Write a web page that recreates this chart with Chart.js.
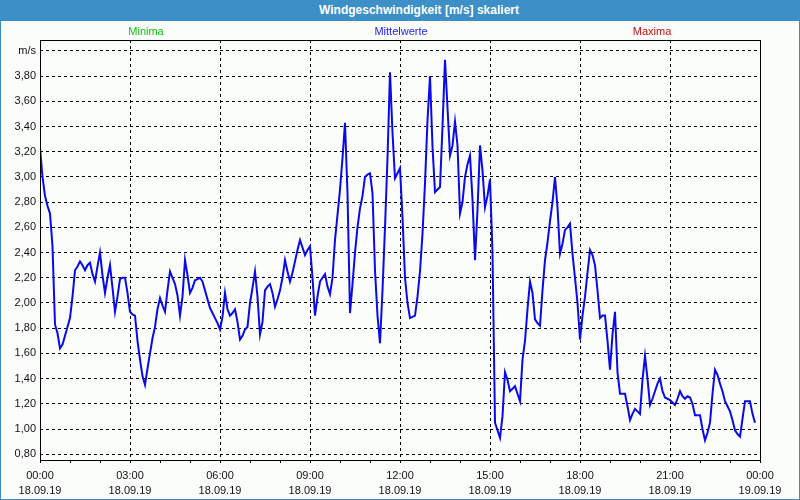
<!DOCTYPE html>
<html lang="de">
<head>
<meta charset="utf-8">
<title>Windgeschwindigkeit</title>
<script src="https://cdn.jsdelivr.net/npm/chart.js@4.4.1/dist/chart.umd.min.js"></script>
<style>
  html, body { margin: 0; padding: 0; background: #3d8fc7; }
  #frame {
    position: relative;
    width: 800px;
    height: 500px;
    background: #3d8fc7;
    font-family: "Liberation Sans", Arial, sans-serif;
  }
  #titlebar {
    position: absolute;
    left: 38px; top: 0;
    width: 762px; height: 21px;
    line-height: 21px;
    text-align: center;
    color: #fff;
    font-weight: bold;
    font-size: 12px;
  }
  #plot {
    position: absolute;
    left: 1px; top: 21px;
    width: 798px; height: 478px;
    background: #fbfdfb;
  }
  .legend-item {
    position: absolute;
    top: 25px;
    font-size: 11px;
    transform: translateX(-50%);
    white-space: nowrap;
  }
</style>
</head>
<body>
<div id="frame">
  <div id="titlebar">Windgeschwindigkeit [m/s] skaliert</div>
  <div id="plot"><canvas id="windChart" width="798" height="478"></canvas></div>
  <span class="legend-item" style="left:146px;color:#10c010">Minima</span>
  <span class="legend-item" style="left:401px;color:#1a1aff">Mittelwerte</span>
  <span class="legend-item" style="left:652px;color:#c01010">Maxima</span>
</div>
<script>
// Messwerte alle 5 Minuten ab 18.09.19 00:00 (Mittelwerte, m/s)
const intervalMinutes = 5;
const mittelwerte = [
  3.23, 3.00, 2.85, 2.77, 2.71, 2.45, 1.83, 1.76, 1.64, 1.67, 1.74, 1.81,
  1.88, 2.05, 2.26, 2.29, 2.33, 2.30, 2.26, 2.30, 2.32, 2.23, 2.17, 2.29,
  2.40, 2.22, 2.08, 2.20, 2.30, 2.12, 1.93, 2.05, 2.19, 2.20, 2.20, 2.08,
  1.93, 1.91, 1.90, 1.70, 1.55, 1.42, 1.35, 1.48, 1.60, 1.72, 1.81, 1.95,
  2.04, 1.98, 1.93, 2.10, 2.25, 2.20, 2.15, 2.06, 1.90, 2.05, 2.34, 2.22,
  2.08, 2.12, 2.18, 2.19, 2.20, 2.17, 2.10, 2.03, 1.96, 1.92, 1.88, 1.84,
  1.79, 1.89, 2.08, 1.95, 1.90, 1.92, 1.95, 1.85, 1.71, 1.74, 1.79, 1.81,
  2.00, 2.12, 2.25, 2.05, 1.75, 1.85, 2.10, 2.13, 2.15, 2.08, 1.97, 2.03,
  2.10, 2.20, 2.34, 2.25, 2.17, 2.24, 2.33, 2.42, 2.50, 2.44, 2.38, 2.42,
  2.45, 2.20, 1.90, 2.05, 2.17, 2.20, 2.23, 2.13, 2.07, 2.20, 2.50, 2.70,
  2.90, 3.15, 3.43, 2.87, 1.92, 2.15, 2.40, 2.60, 2.75, 2.85, 3.00, 3.02,
  3.03, 2.87, 2.26, 1.90, 1.68, 2.10, 2.60, 3.15, 3.83, 3.35, 2.99, 3.03,
  3.07, 2.68, 2.20, 2.00, 1.88, 1.89, 1.90, 2.05, 2.25, 2.55, 2.95, 3.45,
  3.80, 3.24, 2.88, 2.90, 2.92, 3.40, 3.93, 3.55, 3.17, 3.25, 3.44, 3.25,
  2.71, 2.80, 3.00, 3.10, 3.17, 2.82, 2.34, 2.74, 3.25, 3.05, 2.76, 2.85,
  2.98, 2.40, 1.05, 0.99, 0.93, 1.10, 1.45, 1.39, 1.30, 1.32, 1.34, 1.28,
  1.22, 1.55, 1.70, 1.95, 2.17, 2.08, 1.87, 1.84, 1.82, 2.10, 2.34, 2.48,
  2.65, 2.80, 3.00, 2.76, 2.39, 2.47, 2.58, 2.60, 2.63, 2.39, 2.20, 2.00,
  1.71, 1.90, 2.05, 2.24, 2.42, 2.38, 2.30, 2.10, 1.88, 1.90, 1.90, 1.70,
  1.47, 1.75, 1.93, 1.45, 1.28, 1.28, 1.28, 1.18, 1.07, 1.12, 1.16, 1.14,
  1.12, 1.39, 1.58, 1.40, 1.19, 1.24, 1.30, 1.36, 1.40, 1.30, 1.25, 1.24,
  1.23, 1.21, 1.19, 1.24, 1.30, 1.26, 1.24, 1.26, 1.25, 1.20, 1.11, 1.11,
  1.11, 1.00, 0.91, 0.97, 1.05, 1.28, 1.47, 1.43, 1.36, 1.30, 1.22, 1.18,
  1.14, 1.07, 0.99, 0.96, 0.94, 1.08, 1.22, 1.22, 1.22, 1.12, 1.05,
];

// Achsenbeschriftungen
const yTickValues = [0.8, 1.0, 1.2, 1.4, 1.6, 1.8, 2.0, 2.2, 2.4, 2.6, 2.8, 3.0, 3.2, 3.4, 3.6, 3.8, 4.0];
const yUnitLabel = "m/s";
const xTickMinutes = [
  0, 60, 120, 180, 240, 300, 360, 420, 480, 540, 600, 660, 720,
  780, 840, 900, 960, 1020, 1080, 1140, 1200, 1260, 1320, 1380, 1440,
];
const xLabelTimes = ["00:00", "03:00", "06:00", "09:00", "12:00", "15:00", "18:00", "21:00", "00:00"];
const xLabelDates = ["18.09.19", "18.09.19", "18.09.19", "18.09.19", "18.09.19", "18.09.19", "18.09.19", "18.09.19", "19.09.19"];

const points = mittelwerte.map((v, i) => ({ x: i * intervalMinutes, y: v }));

// Rahmen um den Plotbereich
const plotFrame = {
  id: "plotFrame",
  afterDraw(chart) {
    const { ctx, chartArea } = chart;
    ctx.save();
    ctx.strokeStyle = "#000";
    ctx.lineWidth = 1;
    ctx.strokeRect(
      Math.round(chartArea.left) + 0.5,
      Math.round(chartArea.top) + 0.5,
      Math.round(chartArea.right - chartArea.left),
      Math.round(chartArea.bottom - chartArea.top),
    );
    ctx.restore();
  },
};

const tickFont = { family: "'Liberation Sans', Arial, sans-serif", size: 11, lineHeight: 1.4 };

const ctx = document.getElementById("windChart").getContext("2d");
new Chart(ctx, {
  type: "line",
  data: {
    datasets: [
      {
        label: "Mittelwerte",
        data: points,
        borderColor: "#0a0ae8",
        borderWidth: 2,
        pointRadius: 0,
        tension: 0,
        fill: false,
      },
    ],
  },
  options: {
    responsive: false,
    animation: false,
    devicePixelRatio: 1,
    layout: { padding: { top: 19, right: 39, left: 0, bottom: 0 } },
    plugins: {
      legend: { display: false },
      tooltip: { enabled: false },
    },
    scales: {
      x: {
        type: "linear",
        min: 0,
        max: 1440,
        afterBuildTicks: (scale) => {
          scale.ticks = xTickMinutes.map((v) => ({ value: v }));
        },
        afterFit: (scale) => {
          scale.height = 39;
        },
        border: { display: false, dash: [3, 3] },
        grid: {
          color: (c) =>
            c.tick && c.tick.value % 180 === 0 && c.tick.value > 0 && c.tick.value < 1440
              ? "#000"
              : "rgba(0,0,0,0)",
          tickColor: "#000",
          tickLength: 3,
          lineWidth: 1,
        },
        ticks: {
          autoSkip: false,
          maxRotation: 0,
          padding: 5,
          color: "#111",
          font: tickFont,
          callback: function (value) {
            if (value % 180 !== 0) return "";
            const i = value / 180;
            return [xLabelTimes[i], xLabelDates[i]];
          },
        },
      },
      y: {
        min: 0.754,
        max: 4.087,
        afterBuildTicks: (scale) => {
          scale.ticks = yTickValues.map((v) => ({ value: v }));
        },
        afterFit: (scale) => {
          scale.width = 39;
        },
        border: { display: false, dash: [3, 3] },
        grid: {
          color: "#000",
          drawTicks: false,
          lineWidth: 1,
        },
        ticks: {
          padding: 4,
          color: "#111",
          font: tickFont,
          callback: function (value) {
            if (Math.abs(value - 4.0) < 1e-6) return yUnitLabel;
            return value.toFixed(2).replace(".", ",");
          },
        },
      },
    },
  },
  plugins: [plotFrame],
});
</script>
</body>
</html>
